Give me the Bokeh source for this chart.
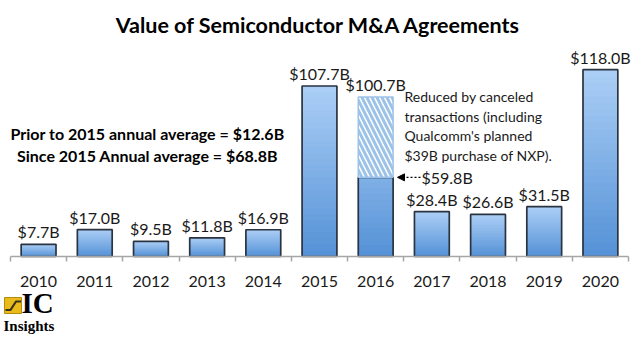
from bokeh.plotting import figure
from bokeh.models import (ColumnDataSource, Range1d, FixedTicker, Label, Arrow,
                          NormalHead)
from bokeh.core.properties import value
from bokeh.embed import file_html
from bokeh.resources import INLINE

# ---------------- data ----------------
years = ["2010", "2011", "2012", "2013", "2014", "2015", "2016", "2017", "2018", "2019", "2020"]
values = [7.7, 17.0, 9.5, 11.8, 16.9, 107.7, 100.7, 28.4, 26.6, 31.5, 118.0]
net_2016_label = 59.8          # value after cancellations (label)
net_2016_drawn = 50.0          # height of the solid part as drawn in the picture
idx_2016 = years.index("2016")
note_lines = ["Reduced by canceled", "transactions (including",
              "Qualcomm's planned", "$39B purchase of NXP)."]
avg_lines = ["Prior to 2015 annual average = $12.6B",
             "Since 2015 Annual average = $68.8B"]
title_text = "Value of Semiconductor M&A Agreements"

n = len(years)
xs = list(range(n))

# ---------------- layout helpers (pixel -> data for annotations) ----------------
W, H = 632, 337
AX_L, AX_R, AX_B = 10, 628, 256
PXX = (AX_R - AX_L) / n
PXY = 1.583


def X(px):
    return -0.5 + (px - AX_L) / PXX


def Y(py):
    return (AX_B - py) / PXY


FONT = value("Lato")

p = figure(width=W, height=H, x_range=Range1d(X(0), X(W)), y_range=Range1d(Y(H), Y(0)),
           output_backend="svg", toolbar_location=None, y_axis_location=None,
           min_border=0)
p.outline_line_color = None
p.xgrid.visible = False
p.ygrid.visible = False
p.background_fill_color = "white"
p.border_fill_color = "white"

# ---------------- bars with vertical gradient ----------------
BW = 0.62
top_rgb = (172, 207, 246)
bot_rgb = (84, 145, 214)
N = 28
for k in range(N, 0, -1):
    f = k / N
    t = (k - 0.5) / N
    c = tuple(int(round(bot_rgb[i] + (top_rgb[i] - bot_rgb[i]) * t)) for i in range(3))
    col = "#%02x%02x%02x" % c
    tops = [v * f for v in values]
    tops[idx_2016] = min(values[idx_2016] * f, net_2016_drawn)
    p.vbar(x=xs, top=tops, width=BW, fill_color=col, line_color=None)

# outlines of solid bars
solid_tops = list(values)
solid_tops[idx_2016] = net_2016_drawn
p.vbar(x=xs, top=solid_tops, width=BW, fill_color=None, line_color="#2a3340", line_width=1.7)

# hatched canceled part of 2016
p.vbar(x=[idx_2016], bottom=[net_2016_drawn], top=[values[idx_2016]], width=BW,
       fill_color="white", line_color="#9cc2e8", line_width=1.5,
       hatch_pattern="\\", hatch_color="#9cc2e8", hatch_weight=3, hatch_scale=10)

# value labels
src = ColumnDataSource(dict(x=xs, y=values, t=[f"${v:.1f}B" for v in values]))
p.text(x="x", y="y", text="t", source=src, text_align="center", text_baseline="bottom",
       y_offset=-3, text_font=FONT, text_font_size="16px", text_color="#1a1a1a")

# ---------------- x axis (fixed at y = 0) ----------------
p.segment(x0=[-0.5], x1=[n - 0.5], y0=[0], y1=[0], line_color="#a6a6a6", line_width=1.5)
ax = p.xaxis[0]
ax.fixed_location = 0
ax.ticker = FixedTicker(ticks=xs, minor_ticks=[i - 0.5 for i in range(n + 1)])
ax.major_label_overrides = {i: years[i] for i in xs}
ax.major_tick_in = 0
ax.major_tick_out = 0
ax.major_tick_line_color = None
ax.minor_tick_in = 0
ax.minor_tick_out = 5
ax.minor_tick_line_color = "#a6a6a6"
ax.minor_tick_line_width = 1.5
ax.axis_line_color = None
ax.major_label_text_font = "Lato"
ax.major_label_text_font_size = "16px"
ax.major_label_text_color = "#1a1a1a"
ax.major_label_standoff = 14

# ---------------- annotations ----------------
p.add_layout(Label(x=X(318), y=Y(24), text=title_text, text_align="center",
                   text_baseline="middle", text_font="Lato", text_font_style="bold",
                   text_font_size="21.5px", text_color="black"))
for i, line in enumerate(avg_lines):
    p.add_layout(Label(x=X(147), y=Y(133 + 22 * i), text=line, text_align="center",
                       text_baseline="middle", text_font="Lato", text_font_style="bold",
                       text_font_size="16px", text_color="black"))
for i, line in enumerate(note_lines):
    p.add_layout(Label(x=X(404), y=Y(96 + 19.5 * i), text=line, text_align="left",
                       text_baseline="middle", text_font="Lato",
                       text_font_size="14px", text_color="#1a1a1a"))

p.add_layout(Arrow(end=NormalHead(size=7, fill_color="black", line_color="black"),
                   x_start=X(420), y_start=net_2016_drawn, x_end=X(397), y_end=net_2016_drawn,
                   line_dash="2 2", line_width=1.3, line_color="black"))
p.add_layout(Label(x=X(421), y=net_2016_drawn, text=f"${net_2016_label:.1f}B",
                   text_align="left", text_baseline="middle", text_font="Lato",
                   text_font_size="16px", text_color="#1a1a1a"))

# logo
p.quad(left=[X(4)], right=[X(21)], top=[Y(297)], bottom=[Y(313)],
       fill_color="#e8bb1a", line_color="#b38c0c", line_width=1)
p.line(x=[X(5), X(10), X(15.5), X(20.5)], y=[Y(309.5), Y(309.5), Y(301), Y(301)],
       line_color="#3a3220", line_width=2.2)
p.add_layout(Label(x=X(21), y=Y(318), text="IC", text_align="left", text_baseline="bottom",
                   text_font="Liberation Serif", text_font_style="bold",
                   text_font_size="29px", text_color="black"))
p.add_layout(Label(x=X(3), y=Y(333), text="Insights", text_align="left",
                   text_baseline="bottom", text_font="Liberation Serif",
                   text_font_style="bold", text_font_size="15px", text_color="black"))

open("out.html", "w").write(file_html(p, INLINE))
